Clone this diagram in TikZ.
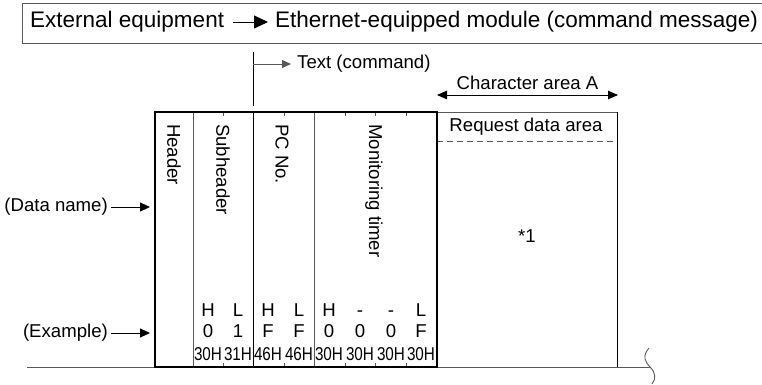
\documentclass[tikz,border=0pt]{standalone}
\usepackage{fontspec}
\setmainfont{Liberation Sans}
\usetikzlibrary{arrows.meta}
\begin{document}
\begin{tikzpicture}[x=1pt,y=1pt,
  lbl/.style={font=\fontsize{18.6}{20}\selectfont, inner sep=0pt},
  ttl/.style={font=\fontsize{22.5}{24}\selectfont, inner sep=0pt},
  byt/.style={font=\fontsize{18.6}{20}\selectfont, inner sep=0pt, anchor=base},
  vtxt/.style={lbl, rotate=-90, anchor=west},
  gline/.style={draw=black!65, line width=0.9pt},
  bline/.style={draw=black, line width=0.9pt},
  arr/.style={-{Triangle[length=10pt,width=9pt]}, line width=0.9pt},
  sarr/.style={-{Triangle[length=9pt,width=8pt]}, line width=0.9pt},
  barr/.style={-{Triangle[length=14pt,width=13pt]}, line width=0.9pt},
  darr/.style={{Triangle[length=10pt,width=8.5pt]}-{Triangle[length=10pt,width=8.5pt]}, line width=0.9pt}]
\useasboundingbox (0,0) rectangle (762,-385);

% title
\coordinate (tbr1) at (766,-3);
\coordinate (tbl1) at (22,-3);
\coordinate (tbl2) at (22,-43);
\coordinate (tbr2) at (766,-43);
\draw[gline] (tbr1) -- (tbl1) -- (tbl2) -- (tbr2);
\node[ttl, anchor=base west] (src) at (30,-27.5) {External equipment};
\node[ttl, anchor=base west] (dst) at (275,-27.5) {Ethernet-equipped module (command message)};
\coordinate (ta) at (233,-22);
\coordinate (tb) at (268,-22);
\draw[barr] (ta) -- (tb);

% Text (command)
\coordinate (tc0) at (253,-52);
\coordinate (tc1) at (253,-106);
\coordinate (tcm) at (253,-64);
\draw[bline] (tc0) -- (tc1);
\node[lbl, anchor=west] (tcmd) at (297,-64) {Text (command)};
\draw[sarr, draw=black!65] (tcm) -- ([xshift=-6pt]tcmd.west);

% Character area A
\node[lbl] (cha) at (527.5,-83) {Character area A};
\coordinate (ca1) at (437,-95);
\coordinate (ca2) at (618,-95);
\draw[darr] (ca1) -- (ca2);

% request data area
\draw[gline] (437,-112) -- (617,-112);
\draw[bline] (617,-112) -- (617,-367);
\draw[gline, dash pattern=on 6pt off 4pt] (437,-141) -- (617,-141);
\node[lbl] (rda) at (526,-127) {Request data area};
\node[lbl] (star) at (527,-236) {*1};

% bottom line and squiggle
\coordinate (bl0) at (27,-367);
\coordinate (bl1) at (650,-367);
\draw[gline] (bl0) -- (bl1);
\draw[gline] (649,-348) .. controls (642,-356) and (645,-362) .. (bl1) .. controls (656,-373) and (656,-379) .. (652,-384);

% main box dividers
\draw[gline] (193,-112) -- (193,-367);
\draw[bline] (253,-112) -- (253,-367);
\draw[gline] (314,-112) -- (314,-367);
\foreach \tx in {223,284,345,375,406} {
  \draw[gline] (\tx,-112) -- (\tx,-116.5);
  \draw[gline] (\tx,-367) -- (\tx,-362.5);
}
\draw[black, line width=1.8pt] (155,-112) rectangle (437,-367);

% vertical labels
\node[vtxt] (hdr) at (174,-124) {Header};
\node[vtxt] (sub) at (223,-124) {Subheader};
\node[vtxt] (pcno) at (282,-124) {PC No.};
\node[vtxt] (mon) at (374,-124) {Monitoring timer};

% left labels
\node[lbl, anchor=east] (dname) at (108,-207) {(Data name)};
\coordinate (dnt) at (150,-207);
\draw[arr] ([xshift=3pt]dname.east) -- (dnt);
\node[lbl, anchor=east] (exa) at (108,-333) {(Example)};
\coordinate (ext) at (150,-333);
\draw[arr] ([xshift=3pt]exa.east) -- (ext);

% byte rows
\foreach \bx/\h/\v/\c [count=\i] in {208/H/0/30H, 238/L/1/31H, 268/H/F/46H, 299/L/F/46H, 329/H/0/30H, 360/-/0/30H, 391/-/0/30H, 421/L/F/30H} {
  \node[byt] (h\i) at (\bx,-316) {\h};
  \node[byt] (v\i) at (\bx,-337) {\v};
  \node[byt] (c\i) at (\bx,-360) {\scalebox{0.82}[1]{\c}};
}
\end{tikzpicture}
\end{document}
